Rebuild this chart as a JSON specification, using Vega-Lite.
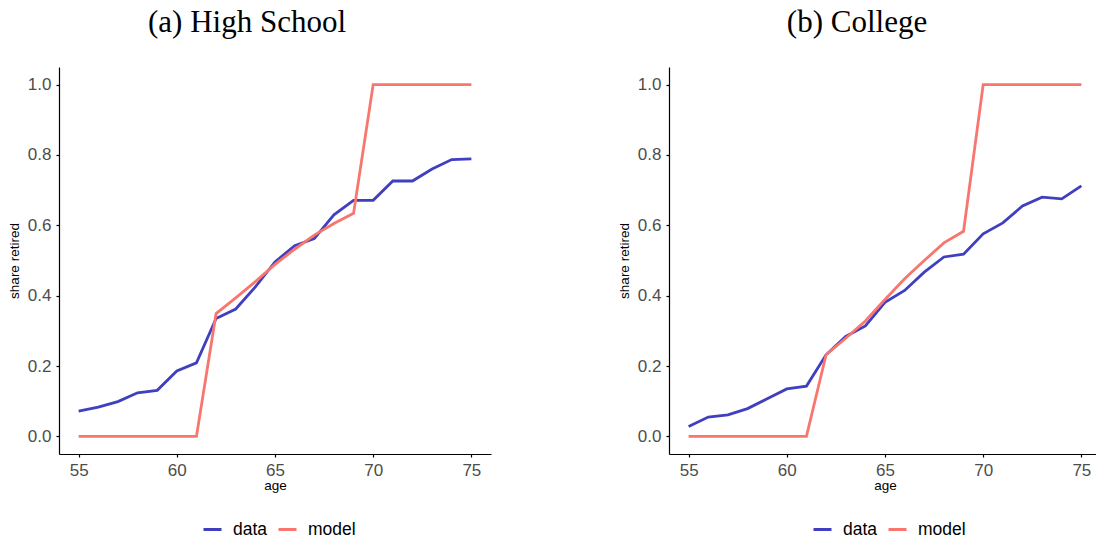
{
  "$schema": "https://vega.github.io/schema/vega-lite/v6.json",
  "padding": {"left": 7, "top": 7, "right": 0, "bottom": 0},
  "background": "white",
  "datasets": {
    "hs": [
      {"age": 55, "series": "data", "share": 0.072},
      {"age": 56, "series": "data", "share": 0.083},
      {"age": 57, "series": "data", "share": 0.099},
      {"age": 58, "series": "data", "share": 0.124},
      {"age": 59, "series": "data", "share": 0.131},
      {"age": 60, "series": "data", "share": 0.186},
      {"age": 61, "series": "data", "share": 0.209},
      {"age": 62, "series": "data", "share": 0.335},
      {"age": 63, "series": "data", "share": 0.362},
      {"age": 64, "series": "data", "share": 0.425},
      {"age": 65, "series": "data", "share": 0.496},
      {"age": 66, "series": "data", "share": 0.542},
      {"age": 67, "series": "data", "share": 0.562},
      {"age": 68, "series": "data", "share": 0.630},
      {"age": 69, "series": "data", "share": 0.671},
      {"age": 70, "series": "data", "share": 0.671},
      {"age": 71, "series": "data", "share": 0.726},
      {"age": 72, "series": "data", "share": 0.726},
      {"age": 73, "series": "data", "share": 0.760},
      {"age": 74, "series": "data", "share": 0.787},
      {"age": 75, "series": "data", "share": 0.789},
      {"age": 55, "series": "model", "share": 0},
      {"age": 56, "series": "model", "share": 0},
      {"age": 57, "series": "model", "share": 0},
      {"age": 58, "series": "model", "share": 0},
      {"age": 59, "series": "model", "share": 0},
      {"age": 60, "series": "model", "share": 0},
      {"age": 61, "series": "model", "share": 0},
      {"age": 62, "series": "model", "share": 0.349},
      {"age": 63, "series": "model", "share": 0.394},
      {"age": 64, "series": "model", "share": 0.440},
      {"age": 65, "series": "model", "share": 0.489},
      {"age": 66, "series": "model", "share": 0.532},
      {"age": 67, "series": "model", "share": 0.572},
      {"age": 68, "series": "model", "share": 0.605},
      {"age": 69, "series": "model", "share": 0.634},
      {"age": 70, "series": "model", "share": 1},
      {"age": 71, "series": "model", "share": 1},
      {"age": 72, "series": "model", "share": 1},
      {"age": 73, "series": "model", "share": 1},
      {"age": 74, "series": "model", "share": 1},
      {"age": 75, "series": "model", "share": 1}
    ],
    "col": [
      {"age": 55, "series": "data", "share": 0.028},
      {"age": 56, "series": "data", "share": 0.055},
      {"age": 57, "series": "data", "share": 0.061},
      {"age": 58, "series": "data", "share": 0.079},
      {"age": 59, "series": "data", "share": 0.107},
      {"age": 60, "series": "data", "share": 0.135},
      {"age": 61, "series": "data", "share": 0.143},
      {"age": 62, "series": "data", "share": 0.232},
      {"age": 63, "series": "data", "share": 0.284},
      {"age": 64, "series": "data", "share": 0.314},
      {"age": 65, "series": "data", "share": 0.381},
      {"age": 66, "series": "data", "share": 0.415},
      {"age": 67, "series": "data", "share": 0.467},
      {"age": 68, "series": "data", "share": 0.510},
      {"age": 69, "series": "data", "share": 0.518},
      {"age": 70, "series": "data", "share": 0.576},
      {"age": 71, "series": "data", "share": 0.607},
      {"age": 72, "series": "data", "share": 0.655},
      {"age": 73, "series": "data", "share": 0.680},
      {"age": 74, "series": "data", "share": 0.675},
      {"age": 75, "series": "data", "share": 0.712},
      {"age": 55, "series": "model", "share": 0},
      {"age": 56, "series": "model", "share": 0},
      {"age": 57, "series": "model", "share": 0},
      {"age": 58, "series": "model", "share": 0},
      {"age": 59, "series": "model", "share": 0},
      {"age": 60, "series": "model", "share": 0},
      {"age": 61, "series": "model", "share": 0},
      {"age": 62, "series": "model", "share": 0.232},
      {"age": 63, "series": "model", "share": 0.279},
      {"age": 64, "series": "model", "share": 0.328},
      {"age": 65, "series": "model", "share": 0.389},
      {"age": 66, "series": "model", "share": 0.448},
      {"age": 67, "series": "model", "share": 0.500},
      {"age": 68, "series": "model", "share": 0.550},
      {"age": 69, "series": "model", "share": 0.583},
      {"age": 70, "series": "model", "share": 1},
      {"age": 71, "series": "model", "share": 1},
      {"age": 72, "series": "model", "share": 1},
      {"age": 73, "series": "model", "share": 1},
      {"age": 74, "series": "model", "share": 1},
      {"age": 75, "series": "model", "share": 1}
    ]
  },
  "config": {
    "view": {"stroke": null},
    "font": "Liberation Sans",
    "axis": {
      "grid": false,
      "domainColor": "black",
      "domainWidth": 1.2,
      "tickColor": "black",
      "tickSize": 3,
      "tickWidth": 1.2,
      "labelFont": "Liberation Sans",
      "labelFontSize": 17,
      "labelColor": "#4D4D4D",
      "labelPadding": 5,
      "titleFont": "Liberation Sans",
      "titleFontSize": 13.5,
      "titleFontWeight": "normal",
      "titleColor": "black",
      "titlePadding": 6
    },
    "axisX": {"titlePadding": 0},
    "title": {
      "font": "Liberation Serif",
      "fontSize": 31,
      "fontWeight": "normal",
      "color": "black",
      "anchor": "middle",
      "offset": 28,
      "dx": -28
    },
    "legend": {
      "padding": 0,
      "labelFont": "Liberation Sans",
      "labelFontSize": 17.5,
      "labelColor": "black",
      "symbolType": "stroke",
      "symbolSize": 324,
      "symbolStrokeWidth": 3,
      "labelOffset": 10,
      "columnPadding": 4
    },
    "concat": {"spacing": 126}
  },
  "resolve": {"legend": {"color": "independent"}},
  "hconcat": [
    {
      "title": "(a) High School",
      "width": 432,
      "height": 387,
      "data": {"name": "hs"},
      "mark": {"type": "line", "strokeWidth": 2.8},
      "encoding": {
        "x": {"field": "age", "type": "quantitative", "scale": {"domain": [54, 76], "nice": false, "zero": false}, "axis": {"values": [55, 60, 65, 70, 75], "title": "age"}},
        "y": {"field": "share", "type": "quantitative", "scale": {"domain": [-0.05, 1.05], "nice": false, "zero": false}, "axis": {"values": [0, 0.2, 0.4, 0.6, 0.8, 1], "format": ".1f", "title": "share retired"}},
        "color": {"field": "series", "type": "nominal", "scale": {"domain": ["data", "model"], "range": ["#3F3FBF", "#F8766D"]}, "legend": {"title": null, "orient": "none", "direction": "horizontal", "legendX": 143, "legendY": 452}}
      }
    },
    {
      "title": "(b) College",
      "width": 432,
      "height": 387,
      "data": {"name": "col"},
      "mark": {"type": "line", "strokeWidth": 2.8},
      "encoding": {
        "x": {"field": "age", "type": "quantitative", "scale": {"domain": [54, 76], "nice": false, "zero": false}, "axis": {"values": [55, 60, 65, 70, 75], "title": "age"}},
        "y": {"field": "share", "type": "quantitative", "scale": {"domain": [-0.05, 1.05], "nice": false, "zero": false}, "axis": {"values": [0, 0.2, 0.4, 0.6, 0.8, 1], "format": ".1f", "title": "share retired"}},
        "color": {"field": "series", "type": "nominal", "scale": {"domain": ["data", "model"], "range": ["#3F3FBF", "#F8766D"]}, "legend": {"title": null, "orient": "none", "direction": "horizontal", "legendX": 143, "legendY": 452}}
      }
    }
  ]
}
